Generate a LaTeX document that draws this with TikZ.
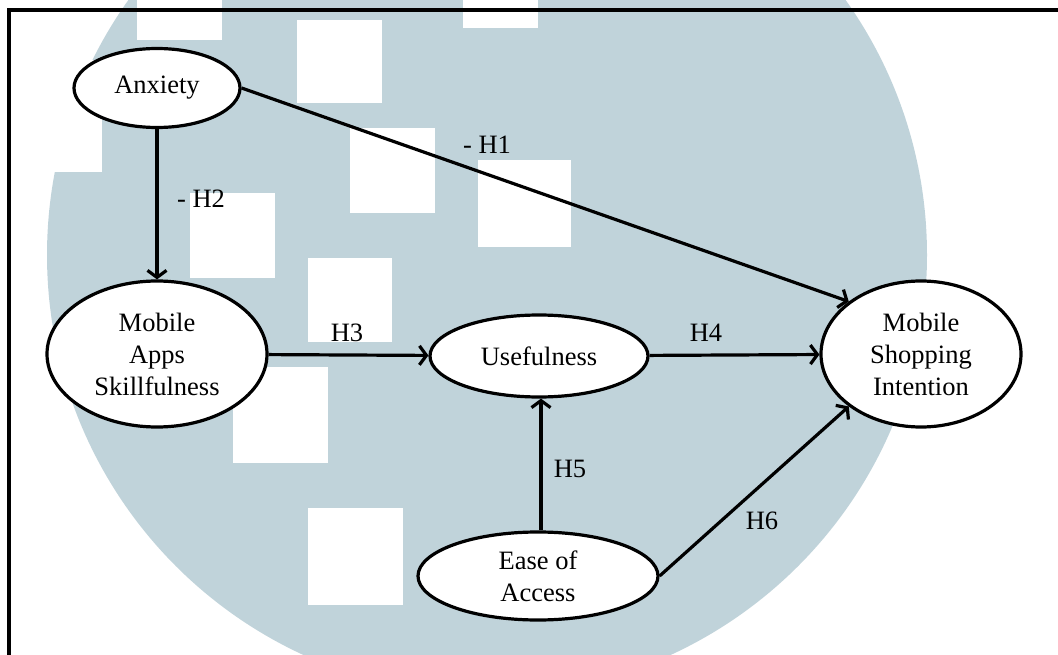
\documentclass[tikz,border=0pt]{standalone}
\usepackage{fontspec}
\setmainfont{Liberation Serif}
\usetikzlibrary{shapes.geometric,arrows.meta}
\definecolor{wm}{RGB}{192,211,218}
\begin{document}
\begin{tikzpicture}[x=1pt,y=-1pt,
  var/.style={ellipse, draw, line width=3.2pt, fill=white, inner sep=0pt, align=center,
    font=\fontsize{26.5}{32}\selectfont},
  lab/.style={font=\fontsize{26.5}{32}\selectfont, inner sep=0pt},
  arr/.style={line width=3.2pt, -{Straight Barb[length=7pt,width=19pt]}},
  sq/.style={fill=white}]
\useasboundingbox (0,0) rectangle (1058,655);
\begin{scope}
  \clip (0,0) rectangle (1058,655);
  \fill[wm] (487,255) circle[radius=440];
  \fill[sq] (50,60) rectangle (102,172);
  \fill[sq] (137,0) rectangle (222,40);
  \fill[sq] (463,0) rectangle (538,28);
  \fill[sq] (297,20) rectangle (382,103);
  \fill[sq] (350,128) rectangle (435,213);
  \fill[sq] (190,193) rectangle (275,278);
  \fill[sq] (478,160) rectangle (571,247);
  \fill[sq] (308,258) rectangle (392,342);
  \fill[sq] (233,367) rectangle (328,463);
  \fill[sq] (308,508) rectangle (403,605);
\end{scope}
\draw[line width=3.2pt] (9,660) -- (9,10) -- (1062,10);

\node[var, minimum width=166pt, minimum height=79pt] (anx) at (157,88) {Anxiety};
\node[var, minimum width=220pt, minimum height=146pt] (mas) at (157,354) {Mobile\\Apps\\Skillfulness};
\node[var, minimum width=218pt, minimum height=82pt] (use) at (539,356) {Usefulness};
\node[var, minimum width=200pt, minimum height=146pt] (msi) at (921,354) {Mobile\\Shopping\\Intention};
\node[var, minimum width=240pt, minimum height=88pt] (ease) at (538,576) {Ease of\\Access};

\draw[arr] (anx) -- (mas);
\draw[arr] (anx.east) -- (msi.144);
\draw[arr] (mas) -- (use);
\draw[arr] (use) -- (msi);
\draw[arr] (ease.north) ++(3,0) coordinate (es) -- (es |- use.south);
\draw[arr] (ease.east) -- (msi.216);

\node[lab] (h1) at (487,145) {- H1};
\node[lab] (h2) at (201,199) {- H2};
\node[lab] (h3) at (347,333) {H3};
\node[lab] (h4) at (706,333) {H4};
\node[lab] (h5) at (570,469) {H5};
\node[lab] (h6) at (762,521) {H6};
\end{tikzpicture}
\end{document}
